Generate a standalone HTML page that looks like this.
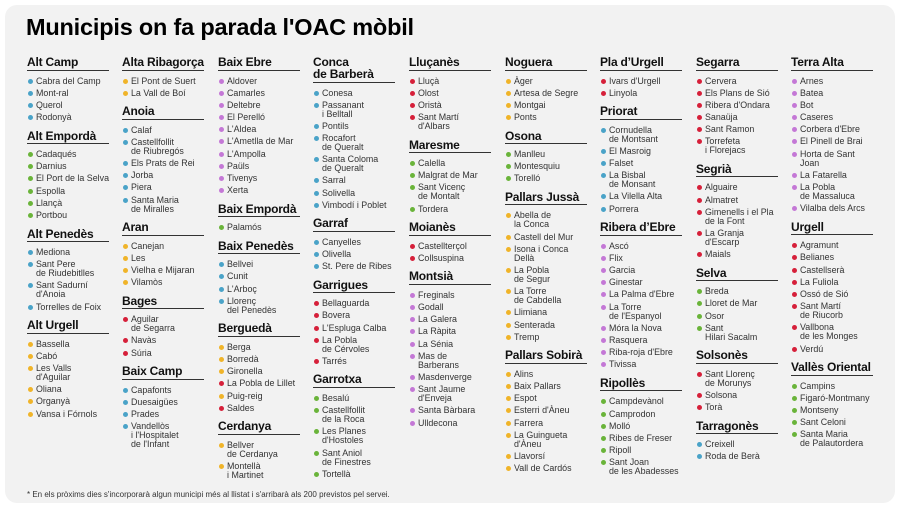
<!DOCTYPE html>
<html><head><meta charset="utf-8"><style>
*{margin:0;padding:0;box-sizing:border-box}
body{width:900px;height:507px;background:#fff;font-family:"Liberation Sans",Arial,sans-serif;position:relative;overflow:hidden;color:#222}
.card{position:absolute;left:5px;top:5px;width:890px;height:498px;background:#f2f2f2;border-radius:12px}
h1{position:absolute;left:26px;top:13px;font-size:23.5px;font-weight:bold;color:#000;letter-spacing:-0.2px;line-height:28px}
.col{position:absolute;top:56px;width:82px}
.h{font-weight:bold;font-size:12px;line-height:12px;color:#111;padding-bottom:1.5px;border-bottom:1.5px solid #333;margin-top:7.5px;margin-bottom:6px;letter-spacing:-0.2px;white-space:nowrap}
.col .h:first-child{margin-top:0}
.i{position:relative;padding-left:9px;font-size:8.9px;line-height:9px;margin-bottom:3.2px;color:#333;white-space:nowrap}
.i:before{content:"";position:absolute;left:1px;top:2px;width:5px;height:5px;border-radius:50%;background:var(--c)}
.b{--c:#4aa3c8}.y{--c:#f0b429}.p{--c:#c478d6}.g{--c:#6ab43a}.r{--c:#d6203a}
.foot{position:absolute;left:27px;top:490px;font-size:8px;color:#333}
</style></head><body>
<div class="card"></div>
<h1>Municipis on fa parada l'OAC mòbil</h1>

<div class="col" style="left:27px">
<div class="h">Alt Camp</div>
<div class="i b">Cabra del Camp</div><div class="i b">Mont-ral</div><div class="i b">Querol</div><div class="i b">Rodonyà</div>
<div class="h">Alt Empordà</div>
<div class="i g">Cadaqués</div><div class="i g">Darnius</div><div class="i g">El Port de la Selva</div><div class="i g">Espolla</div><div class="i g">Llançà</div><div class="i g">Portbou</div>
<div class="h">Alt Penedès</div>
<div class="i b">Mediona</div><div class="i b">Sant Pere<br>de Riudebitlles</div><div class="i b">Sant Sadurní<br>d'Anoia</div><div class="i b">Torrelles de Foix</div>
<div class="h">Alt Urgell</div>
<div class="i y">Bassella</div><div class="i y">Cabó</div><div class="i y">Les Valls<br>d'Aguilar</div><div class="i y">Oliana</div><div class="i y">Organyà</div><div class="i y">Vansa i Fórnols</div>
</div>

<div class="col" style="left:122px">
<div class="h">Alta Ribagorça</div>
<div class="i y">El Pont de Suert</div><div class="i y">La Vall de Boí</div>
<div class="h">Anoia</div>
<div class="i b">Calaf</div><div class="i b">Castellfollit<br>de Riubregós</div><div class="i b">Els Prats de Rei</div><div class="i b">Jorba</div><div class="i b">Piera</div><div class="i b">Santa Maria<br>de Miralles</div>
<div class="h">Aran</div>
<div class="i y">Canejan</div><div class="i y">Les</div><div class="i y">Vielha e Mijaran</div><div class="i y">Vilamòs</div>
<div class="h">Bages</div>
<div class="i r">Aguilar<br>de Segarra</div><div class="i r">Navàs</div><div class="i r">Súria</div>
<div class="h">Baix Camp</div>
<div class="i b">Capafonts</div><div class="i b">Duesaigües</div><div class="i b">Prades</div><div class="i b">Vandellòs<br>i l'Hospitalet<br>de l'Infant</div>
</div>

<div class="col" style="left:218px">
<div class="h">Baix Ebre</div>
<div class="i p">Aldover</div><div class="i p">Camarles</div><div class="i p">Deltebre</div><div class="i p">El Perelló</div><div class="i p">L'Aldea</div><div class="i p">L'Ametlla de Mar</div><div class="i p">L'Ampolla</div><div class="i p">Paüls</div><div class="i p">Tivenys</div><div class="i p">Xerta</div>
<div class="h">Baix Empordà</div>
<div class="i g">Palamós</div>
<div class="h">Baix Penedès</div>
<div class="i b">Bellvei</div><div class="i b">Cunit</div><div class="i b">L'Arboç</div><div class="i b">Llorenç<br>del Penedès</div>
<div class="h">Berguedà</div>
<div class="i y">Berga</div><div class="i y">Borredà</div><div class="i y">Gironella</div><div class="i r">La Pobla de Lillet</div><div class="i y">Puig-reig</div><div class="i r">Saldes</div>
<div class="h">Cerdanya</div>
<div class="i y">Bellver<br>de Cerdanya</div><div class="i y">Montellà<br>i Martinet</div>
</div>

<div class="col" style="left:313px">
<div class="h">Conca<br>de Barberà</div>
<div class="i b">Conesa</div><div class="i b">Passanant<br>i Belltall</div><div class="i b">Pontils</div><div class="i b">Rocafort<br>de Queralt</div><div class="i b">Santa Coloma<br>de Queralt</div><div class="i b">Sarral</div><div class="i b">Solivella</div><div class="i b">Vimbodí i Poblet</div>
<div class="h">Garraf</div>
<div class="i b">Canyelles</div><div class="i b">Olivella</div><div class="i b">St. Pere de Ribes</div>
<div class="h">Garrigues</div>
<div class="i r">Bellaguarda</div><div class="i r">Bovera</div><div class="i r">L'Espluga Calba</div><div class="i r">La Pobla<br>de Cérvoles</div><div class="i r">Tarrés</div>
<div class="h">Garrotxa</div>
<div class="i g">Besalú</div><div class="i g">Castellfollit<br>de la Roca</div><div class="i g">Les Planes<br>d'Hostoles</div><div class="i g">Sant Aniol<br>de Finestres</div><div class="i g">Tortellà</div>
</div>

<div class="col" style="left:409px">
<div class="h">Lluçanès</div>
<div class="i r">Lluçà</div><div class="i r">Olost</div><div class="i r">Oristà</div><div class="i r">Sant Martí<br>d'Albars</div>
<div class="h">Maresme</div>
<div class="i g">Calella</div><div class="i g">Malgrat de Mar</div><div class="i g">Sant Vicenç<br>de Montalt</div><div class="i g">Tordera</div>
<div class="h">Moianès</div>
<div class="i r">Castellterçol</div><div class="i r">Collsuspina</div>
<div class="h">Montsià</div>
<div class="i p">Freginals</div><div class="i p">Godall</div><div class="i p">La Galera</div><div class="i p">La Ràpita</div><div class="i p">La Sénia</div><div class="i p">Mas de<br>Barberans</div><div class="i p">Masdenverge</div><div class="i p">Sant Jaume<br>d'Enveja</div><div class="i p">Santa Bàrbara</div><div class="i p">Ulldecona</div>
</div>

<div class="col" style="left:505px">
<div class="h">Noguera</div>
<div class="i y">Àger</div><div class="i y">Artesa de Segre</div><div class="i y">Montgai</div><div class="i y">Ponts</div>
<div class="h">Osona</div>
<div class="i g">Manlleu</div><div class="i g">Montesquiu</div><div class="i g">Torelló</div>
<div class="h">Pallars Jussà</div>
<div class="i y">Abella de<br>la Conca</div><div class="i y">Castell del Mur</div><div class="i y">Isona i Conca<br>Dellà</div><div class="i y">La Pobla<br>de Segur</div><div class="i y">La Torre<br>de Cabdella</div><div class="i y">Llimiana</div><div class="i y">Senterada</div><div class="i y">Tremp</div>
<div class="h">Pallars Sobirà</div>
<div class="i y">Alins</div><div class="i y">Baix Pallars</div><div class="i y">Espot</div><div class="i y">Esterri d'Àneu</div><div class="i y">Farrera</div><div class="i y">La Guingueta<br>d'Àneu</div><div class="i y">Llavorsí</div><div class="i y">Vall de Cardós</div>
</div>

<div class="col" style="left:600px">
<div class="h">Pla d’Urgell</div>
<div class="i r">Ivars d'Urgell</div><div class="i r">Linyola</div>
<div class="h">Priorat</div>
<div class="i b">Cornudella<br>de Montsant</div><div class="i b">El Masroig</div><div class="i b">Falset</div><div class="i b">La Bisbal<br>de Monsant</div><div class="i b">La Vilella Alta</div><div class="i b">Porrera</div>
<div class="h">Ribera d’Ebre</div>
<div class="i p">Ascó</div><div class="i p">Flix</div><div class="i p">Garcia</div><div class="i p">Ginestar</div><div class="i p">La Palma d'Ebre</div><div class="i p">La Torre<br>de l'Espanyol</div><div class="i p">Móra la Nova</div><div class="i p">Rasquera</div><div class="i p">Riba-roja d'Ebre</div><div class="i p">Tivissa</div>
<div class="h">Ripollès</div>
<div class="i g">Campdevànol</div><div class="i g">Camprodon</div><div class="i g">Molló</div><div class="i g">Ribes de Freser</div><div class="i g">Ripoll</div><div class="i g">Sant Joan<br>de les Abadesses</div>
</div>

<div class="col" style="left:696px">
<div class="h">Segarra</div>
<div class="i r">Cervera</div><div class="i r">Els Plans de Sió</div><div class="i r">Ribera d'Ondara</div><div class="i r">Sanaüja</div><div class="i r">Sant Ramon</div><div class="i r">Torrefeta<br>i Florejacs</div>
<div class="h">Segrià</div>
<div class="i r">Alguaire</div><div class="i r">Almatret</div><div class="i r">Gimenells i el Pla<br>de la Font</div><div class="i r">La Granja<br>d'Escarp</div><div class="i r">Maials</div>
<div class="h">Selva</div>
<div class="i g">Breda</div><div class="i g">Lloret de Mar</div><div class="i g">Osor</div><div class="i g">Sant<br>Hilari Sacalm</div>
<div class="h">Solsonès</div>
<div class="i r">Sant Llorenç<br>de Morunys</div><div class="i r">Solsona</div><div class="i r">Torà</div>
<div class="h">Tarragonès</div>
<div class="i b">Creixell</div><div class="i b">Roda de Berà</div>
</div>

<div class="col" style="left:791px">
<div class="h">Terra Alta</div>
<div class="i p">Arnes</div><div class="i p">Batea</div><div class="i p">Bot</div><div class="i p">Caseres</div><div class="i p">Corbera d'Ebre</div><div class="i p">El Pinell de Brai</div><div class="i p">Horta de Sant<br>Joan</div><div class="i p">La Fatarella</div><div class="i p">La Pobla<br>de Massaluca</div><div class="i p">Vilalba dels Arcs</div>
<div class="h">Urgell</div>
<div class="i r">Agramunt</div><div class="i r">Belianes</div><div class="i r">Castellserà</div><div class="i r">La Fuliola</div><div class="i r">Ossó de Sió</div><div class="i r">Sant Martí<br>de Riucorb</div><div class="i r">Vallbona<br>de les Monges</div><div class="i r">Verdú</div>
<div class="h">Vallès Oriental</div>
<div class="i g">Campins</div><div class="i g">Figaró-Montmany</div><div class="i g">Montseny</div><div class="i g">Sant Celoni</div><div class="i g">Santa Maria<br>de Palautordera</div>
</div>

<div class="foot">* En els pròxims dies s'incorporarà algun municipi més al llistat i s'arribarà als 200 previstos pel servei.</div>
</body></html>
